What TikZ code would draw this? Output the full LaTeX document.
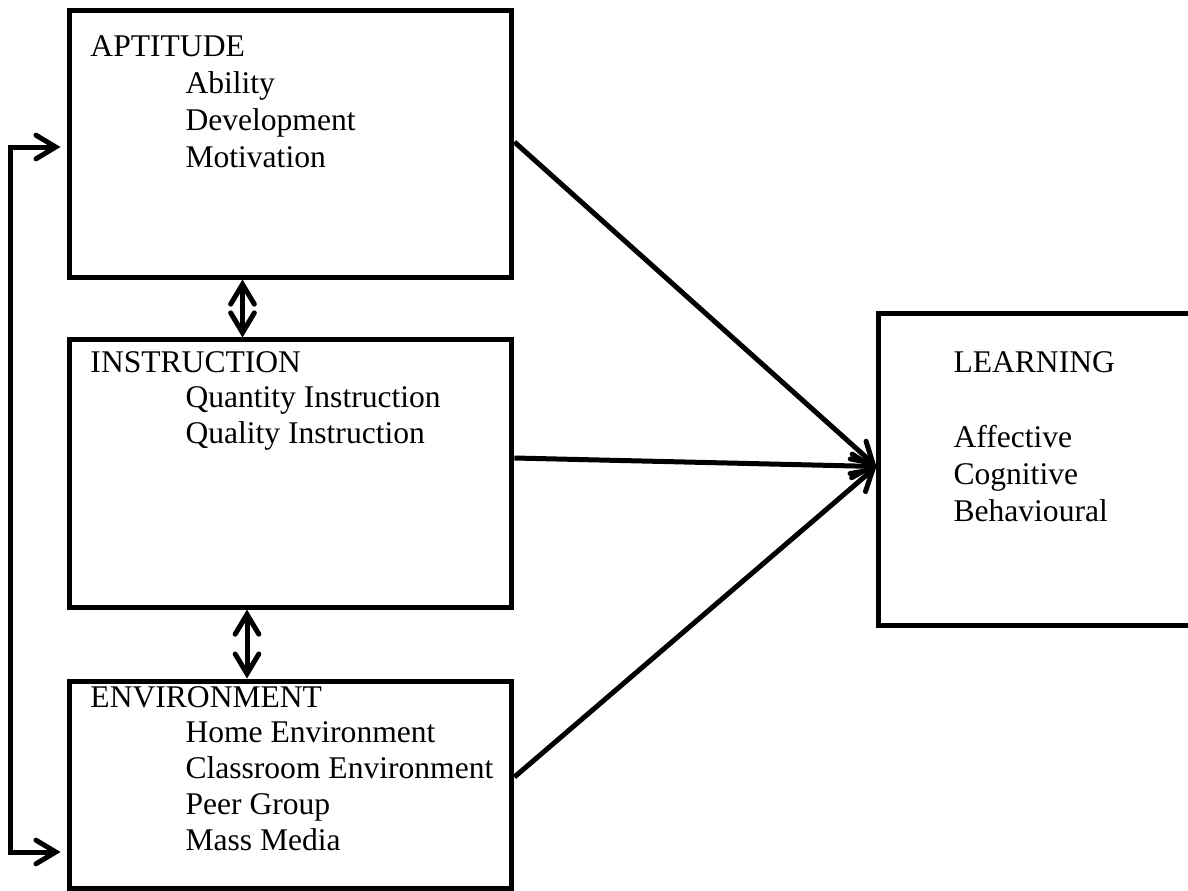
\documentclass[tikz,border=0pt]{standalone}
\usepackage{fontspec}
\setmainfont{Liberation Serif}
\usetikzlibrary{arrows.meta,calc}

\begin{document}
\begin{tikzpicture}[x=0.38pt,y=-0.38pt,>={Straight Barb[length=7.5pt,width=9pt,line cap=round]},line width=1.9pt,
 b/.style={draw,minimum width=168.3pt,inner sep=0pt},
 hd/.style={anchor=base west,inner sep=0pt,font=\fontsize{12}{14}\selectfont}]
\useasboundingbox (0,0) rectangle (1188,891);
\node[b,minimum height=101.1pt] (apt) at (290.5,144) {};
\node[b,minimum height=101.5pt] (ins) at (290.5,473.5) {};
\node[b,minimum height=79pt] (env) at (290.5,785) {};
\node[b,minimum width=125.8pt,minimum height=118.2pt] (learn) at (1044.5,469.5) {};
\node[hd] (aptH) at (88,56) {APTITUDE};
\node[hd] (insH) at (88,372) {INSTRUCTION};
\node[hd] (envH) at (88,707) {ENVIRONMENT};
\node[hd] (learnH) at (951,372) {LEARNING};
\foreach \t [count=\i] in {Ability,Development,Motivation}
  \node[hd] (apt\i) at (183,{56+37*\i}) {\t};
\foreach \t [count=\i] in {Quantity Instruction,Quality Instruction}
  \node[hd] (ins\i) at (183,{372+35.5*\i}) {\t};
\foreach \t [count=\i] in {Home Environment,Classroom Environment,Peer Group,Mass Media}
  \node[hd] (env\i) at (183,{707+35.8*\i}) {\t};
\foreach \t [count=\i] in {Affective,Cognitive,Behavioural}
  \node[hd] (learn\i) at (951,{410+37*\i}) {\t};
% links between the three inputs
\draw[<->] ($(apt.south)+(-48,0)$) -- ($(ins.north)+(-48,0)$);
\draw[<->] ($(ins.south)+(-43.5,0)$) -- ($(env.north)+(-43.5,0)$);
\draw[<->] ($(apt.west)+(-6,3)$) -- ++(-50,0) |- ($(env.west)+(-6,67)$);
% into learning
\draw[->] ($(apt.east)+(0,-2)$) -- ($(learn.west)+(0,-3)$);
\draw[->] ($(ins.east)+(0,-15.5)$) -- ($(learn.west)+(0,-3)$);
\draw[->] ($(env.east)+(0,-8)$) -- ($(learn.west)+(0,-3)$);
\end{tikzpicture}
\end{document}
